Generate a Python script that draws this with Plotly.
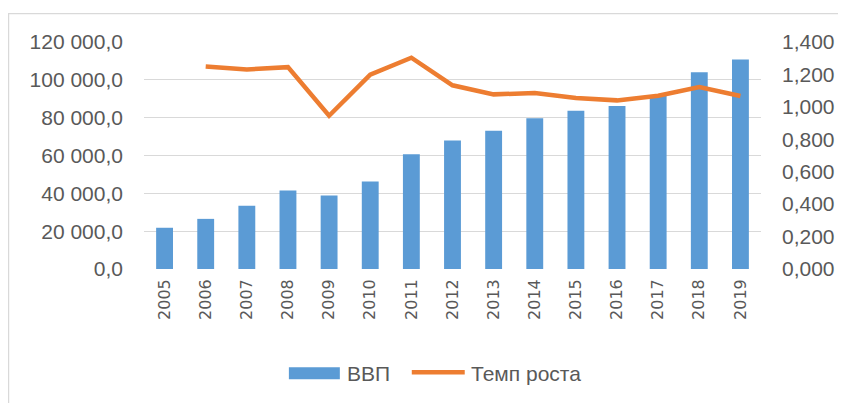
import plotly.graph_objects as go

years = ["2005", "2006", "2007", "2008", "2009", "2010", "2011", "2012",
         "2013", "2014", "2015", "2016", "2017", "2018", "2019"]
gdp = [21800, 26500, 33400, 41500, 38800, 46200, 60700, 67900,
       73100, 79700, 83700, 86200, 91500, 104000, 110800]
growth = [None, 1.249, 1.231, 1.245, 0.945, 1.198, 1.303, 1.133,
          1.077, 1.085, 1.055, 1.040, 1.069, 1.122, 1.067]
left_ticks = [0, 20000, 40000, 60000, 80000, 100000, 120000]
right_ticks = [0, 0.2, 0.4, 0.6, 0.8, 1.0, 1.2, 1.4]
legend_names = ["ВВП", "Темп роста"]

BLUE = "#5B9BD5"
ORANGE = "#ED7D31"
GRAY = "#595959"
GRID = "#D9D9D9"

OFF = 8  # page body margin
W, H = 846 - OFF, 403 - OFF
# plot area in page pixels: x 144..761.5, y 41.5..269.3
PL, PR, PT, PB = 144, 761.5, 41.5, 269.3
L = PL - OFF
T = PT - OFF
R = W - (PR - OFF)
B = H - (PB - OFF)
pw, ph = PR - PL, PB - PT


def px(x):
    return (x - PL) / pw


def py(y):
    return (PB - y) / ph


fig = go.Figure()
fig.add_trace(go.Bar(x=years, y=gdp, name=legend_names[0], marker_color=BLUE,
                     marker_line_width=0, yaxis="y", showlegend=False))
fig.add_trace(go.Scatter(x=years, y=growth, name=legend_names[1], mode="lines",
                         line=dict(color=ORANGE, width=4.5), yaxis="y2",
                         showlegend=False))

fig.update_layout(
    width=W, height=H,
    margin=dict(l=L, r=R, t=T, b=B, autoexpand=False),
    paper_bgcolor="white", plot_bgcolor="white",
    separators=", ",
    bargap=0.59,
    font=dict(family="Liberation Sans, Arial, sans-serif", color=GRAY, size=21),
    xaxis=dict(type="category", tickangle=-90, showgrid=False, showline=False,
               ticks="", ticklabelstandoff=6,
               tickfont=dict(family="DejaVu Sans", size=16, color=GRAY)),
    yaxis=dict(range=[0, 120000], tickvals=left_ticks, tickformat=",.1f",
               showgrid=True, gridcolor=GRID, gridwidth=1, zeroline=False,
               showline=False, ticks="", ticklabelstandoff=20,
               tickfont=dict(size=21, color=GRAY)),
    yaxis2=dict(range=[0, 1.4], tickvals=right_ticks, tickformat=".3f",
                overlaying="y", side="right", showgrid=False, zeroline=False,
                showline=False, ticks="", ticklabelstandoff=20,
                tickfont=dict(size=21, color=GRAY)),
    shapes=[
        dict(type="rect", xref="paper", yref="paper",
             x0=px(8.5), x1=px(870), y0=py(430), y1=py(13),
             line=dict(color=GRID, width=1.2), fillcolor="rgba(0,0,0,0)",
             layer="below"),
        dict(type="rect", xref="paper", yref="paper",
             x0=px(289), x1=px(340), y0=py(380), y1=py(368),
             line=dict(width=0), fillcolor=BLUE),
        dict(type="line", xref="paper", yref="paper",
             x0=px(412), x1=px(465), y0=py(373), y1=py(373),
             line=dict(color=ORANGE, width=4.5)),
    ],
    annotations=[
        dict(text=legend_names[0], xref="paper", yref="paper", x=px(345),
             y=py(374), xanchor="left", yanchor="middle", showarrow=False,
             font=dict(size=21, color=GRAY)),
        dict(text=legend_names[1], xref="paper", yref="paper", x=px(469),
             y=py(374), xanchor="left", yanchor="middle", showarrow=False,
             font=dict(size=21, color=GRAY)),
    ],
)

fig.write_html("out.html")
